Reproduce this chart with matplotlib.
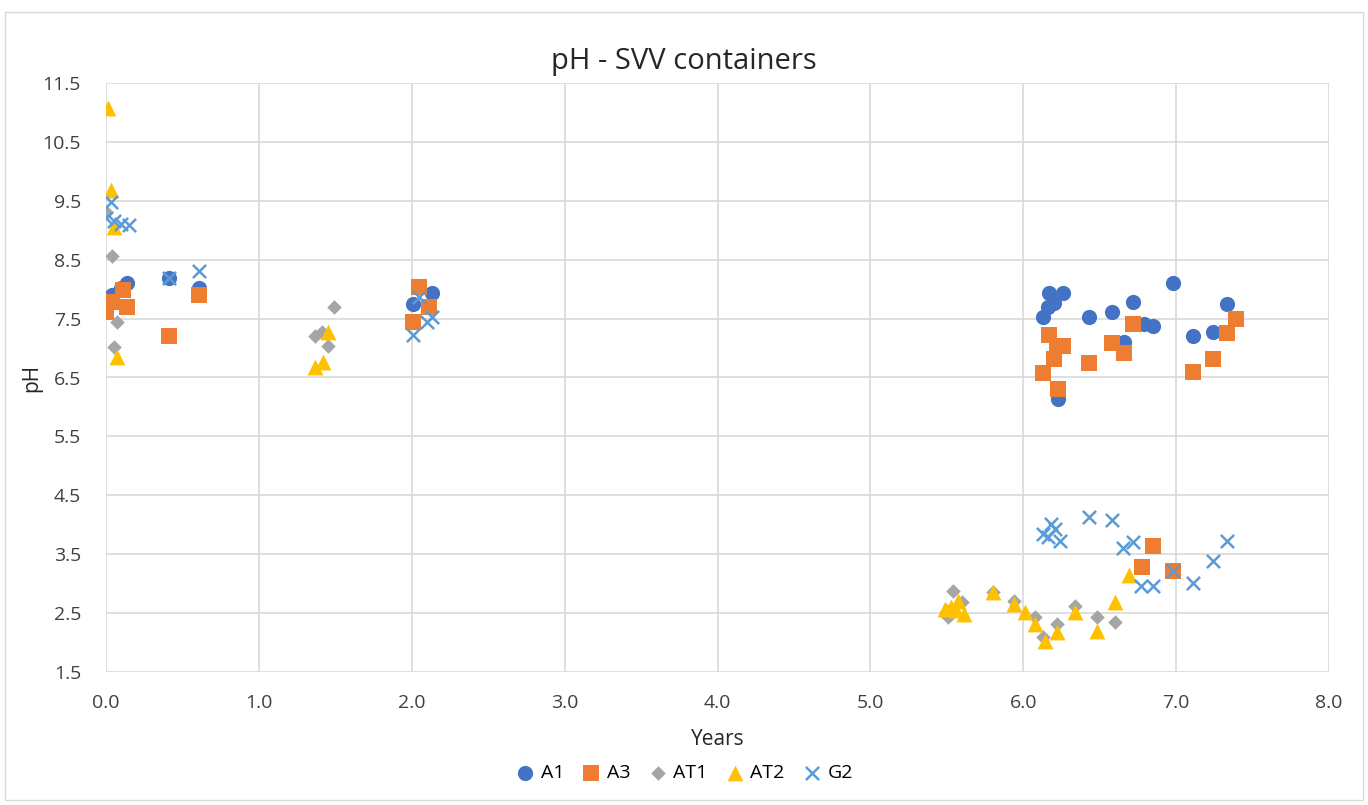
import matplotlib.pyplot as plt
import numpy as np

# data (years, pH)
a1_x = [0.04, 0.10, 0.14, 0.41, 0.61, 2.01, 2.13,
        6.13, 6.16, 6.17, 6.20, 6.26, 6.23, 6.43, 6.58, 6.66, 6.72, 6.79, 6.85, 6.98, 7.11, 7.24, 7.33]
a1_y = [7.90, 8.02, 8.11, 8.19, 8.02, 7.74, 7.94,
        7.53, 7.69, 7.94, 7.77, 7.94, 6.13, 7.53, 7.62, 7.11, 7.79, 7.40, 7.38, 8.10, 7.21, 7.28, 7.75]

a3_x = [0.00, 0.04, 0.11, 0.14, 0.41, 0.61, 2.01, 2.05, 2.11,
        6.13, 6.17, 6.20, 6.22, 6.26, 6.23, 6.43, 6.58, 6.66, 6.72, 7.11, 7.24, 7.33, 7.39,
        6.78, 6.85, 6.98]
a3_y = [7.62, 7.79, 7.99, 7.69, 7.21, 7.90, 7.45, 8.04, 7.69,
        6.58, 7.23, 6.81, 7.03, 7.03, 6.30, 6.74, 7.09, 6.91, 7.41, 6.60, 6.82, 7.26, 7.50,
        3.28, 3.64, 3.21]

at1_x = [0.00, 0.04, 0.07, 0.05, 1.37, 1.41, 1.45, 1.49,
         5.50, 5.51, 5.54, 5.60, 5.80, 5.94, 6.08, 6.13, 6.22, 6.34, 6.48, 6.60]
at1_y = [9.31, 8.57, 7.45, 7.01, 7.20, 7.28, 7.03, 7.70,
         2.53, 2.43, 2.87, 2.69, 2.86, 2.70, 2.43, 2.10, 2.32, 2.62, 2.43, 2.35]

at2_x = [0.01, 0.03, 0.05, 0.07, 1.37, 1.42, 1.45,
         5.49, 5.53, 5.56, 5.57, 5.61, 5.80, 5.94, 6.01, 6.08, 6.14, 6.22, 6.34, 6.48, 6.60, 6.69]
at2_y = [11.08, 9.69, 9.06, 6.84, 6.67, 6.77, 7.28,
         2.57, 2.60, 2.55, 2.70, 2.48, 2.86, 2.65, 2.52, 2.31, 2.03, 2.18, 2.52, 2.20, 2.69, 3.14]

g2_x = [0.00, 0.03, 0.05, 0.10, 0.15, 0.41, 0.61, 2.01, 2.05, 2.10, 2.13,
        6.13, 6.16, 6.18, 6.21, 6.24, 6.43, 6.58, 6.65, 6.72, 6.77, 6.85, 6.98, 7.11, 7.24, 7.33]
g2_y = [9.20, 9.48, 9.15, 9.10, 9.09, 8.19, 8.30, 7.23, 7.86, 7.45, 7.53,
        3.84, 3.80, 4.01, 3.92, 3.72, 4.14, 4.08, 3.60, 3.70, 2.96, 2.96, 3.21, 3.01, 3.38, 3.72]

x_ticks = np.arange(0, 8.01, 1.0)
y_ticks = np.arange(1.5, 11.51, 1.0)

plt.rcParams['font.family'] = ['Open Sans', 'DejaVu Sans']

fig = plt.figure(figsize=(13.68, 8.05), dpi=100)
# outer chart border
fig.patches.append(plt.Rectangle((5 / 1368, 5 / 805), 1358 / 1368, 788 / 805,
                                 transform=fig.transFigure, fill=False,
                                 edgecolor='#d9d9d9', lw=1))
ax = fig.add_axes([106 / 1368, 1 - 672 / 805, 1223 / 1368, 589 / 805])

ax.scatter(a1_x, a1_y, marker='o', s=120, color='#4472C4', label='A1', zorder=3, linewidths=0)
ax.scatter(a3_x, a3_y, marker='s', s=120, color='#ED7D31', label='A3', zorder=3, linewidths=0)
ax.scatter(at1_x, at1_y, marker='D', s=55, color='#A5A5A5', label='AT1', zorder=3, linewidths=0)
ax.scatter(at2_x, at2_y, marker='^', s=130, color='#FFC000', label='AT2', zorder=3, linewidths=0)
ax.scatter(g2_x, g2_y, marker='x', s=90, color='#5B9BD5', label='G2', zorder=3, linewidths=1.8)

ax.set_xlim(0, 8)
ax.set_ylim(1.5, 11.5)
ax.set_xticks(x_ticks)
ax.set_yticks(y_ticks)
ax.set_xticklabels([f'{v:.1f}' for v in x_ticks])
ax.set_yticklabels([f'{v:.1f}' for v in y_ticks])
ax.tick_params(length=0, labelsize=14, colors='#404040')
ax.tick_params(axis='x', pad=16)
ax.tick_params(axis='y', pad=18)
ax.grid(True, color='#d9d9d9', lw=1.2)
ax.set_axisbelow(True)
for s in ax.spines.values():
    s.set_visible(False)

ax.set_xlabel('Years', fontsize=15, color='#262626', labelpad=12)
ax.set_ylabel('pH', fontsize=15, color='#262626', labelpad=0)

fig.text(0.5, 1 - 62 / 805, 'pH - SVV containers', ha='center', va='center',
         fontsize=21, color='#262626',
         bbox=dict(facecolor='white', edgecolor='none', pad=5))

fig.legend(loc='center', bbox_to_anchor=(0.5, 1 - 773 / 805), ncol=5, frameon=False,
           fontsize=14, handlelength=1.0, handletextpad=0.3, columnspacing=0.9,
           markerscale=1.0)

fig.savefig('out.png', dpi=100, facecolor='white')
